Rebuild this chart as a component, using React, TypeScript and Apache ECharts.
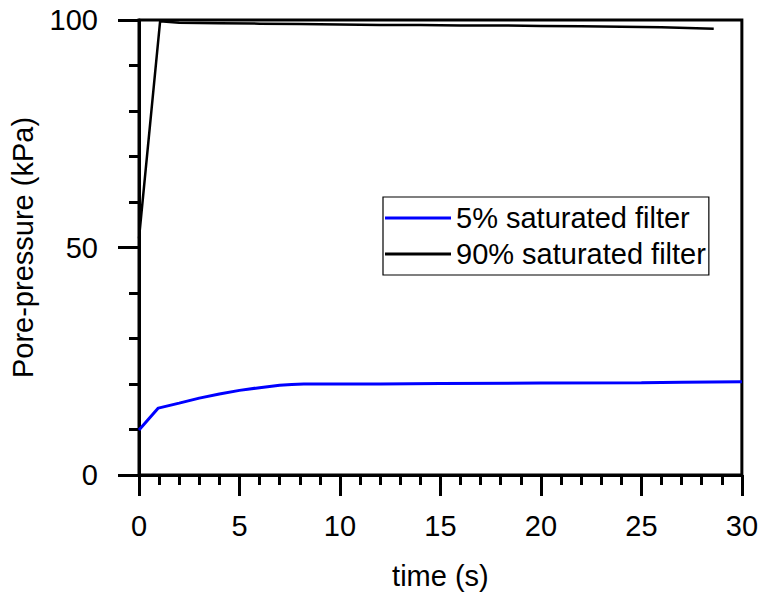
import React, { useEffect, useRef } from "react";
import * as echarts from "echarts";

const seriesNames = ["5% saturated filter", "90% saturated filter"];
const seriesColors = ["#0000ff", "#000000"];

// 5% saturated filter: [time (s), pore-pressure (kPa)]
const lowSatData: [number, number][] = [
  [0, 9.9], [0.96, 14.7], [2, 15.8], [3, 16.9], [4, 17.8], [5, 18.6],
  [6, 19.2], [7, 19.7], [7.6, 19.9], [8.2, 20.0], [10, 20.0], [12, 20.0], [15, 20.1],
  [20, 20.2], [25, 20.3], [27, 20.4], [30, 20.5],
];

// 90% saturated filter
const highSatData: [number, number][] = [
  [0, 52], [1.05, 99.7], [2, 99.4], [4, 99.3], [6, 99.2], [8, 99.1],
  [10, 99.0], [12, 98.9], [14, 98.9], [16, 98.8], [18, 98.8], [20, 98.7],
  [22, 98.6], [24, 98.5], [26, 98.4], [28.6, 98.1],
];

const xTicks = { min: 0, max: 30, interval: 5 };
const yTicks = { min: 0, max: 100, interval: 50 };

const FONT = "Liberation Sans, Arial, sans-serif";

export default function App() {
  const ref = useRef<HTMLDivElement>(null);
  useEffect(() => {
    if (!ref.current) return;
    const chart = echarts.init(ref.current, undefined, { renderer: "svg" });
    const axisCommon = {
      axisLine: { show: true, onZero: false, lineStyle: { color: "#000", width: 3 } },
      axisTick: { show: true, inside: false, length: 21, lineStyle: { color: "#000", width: 3 } },
      minorTick: { show: true, splitNumber: 5, length: 10, lineStyle: { color: "#000", width: 3 } },
      splitLine: { show: false },
      minorSplitLine: { show: false },
    };
    chart.setOption({
      animation: false,
      backgroundColor: "#fff",
      textStyle: { fontFamily: FONT },
      grid: {
        left: 138, right: 19, top: 20, bottom: 124,
        show: true, borderColor: "#000", borderWidth: 3, backgroundColor: "transparent",
      },
      legend: {
        orient: "vertical",
        left: 383,
        top: 197,
        data: seriesNames.map((n) => ({ name: n, icon: "rect" })),
        borderColor: "#000",
        borderWidth: 1.2,
        padding: [5, 3, 5, 2],
        itemGap: 4,
        itemWidth: 66,
        itemHeight: 3,
        textStyle: { fontFamily: FONT, fontSize: 29, color: "#000", lineHeight: 32 },
      },
      xAxis: {
        type: "value",
        ...xTicks,
        ...axisCommon,
        name: "time (s)",
        nameLocation: "middle",
        nameGap: 86,
        nameTextStyle: { fontFamily: FONT, fontSize: 29, color: "#000" },
        axisLabel: { margin: 36, fontFamily: FONT, fontSize: 29, color: "#000" },
      },
      yAxis: {
        type: "value",
        ...yTicks,
        ...axisCommon,
        name: "Pore-pressure (kPa)",
        nameLocation: "middle",
        nameGap: 102,
        nameTextStyle: { fontFamily: FONT, fontSize: 29, color: "#000" },
        axisLabel: { margin: 41, fontFamily: FONT, fontSize: 29, color: "#000" },
      },
      series: [
        {
          name: seriesNames[0],
          type: "line",
          data: lowSatData,
          symbol: "none",
          color: seriesColors[0],
          itemStyle: { color: seriesColors[0] },
          lineStyle: { color: seriesColors[0], width: 3 },
        },
        {
          name: seriesNames[1],
          type: "line",
          data: highSatData,
          symbol: "none",
          color: seriesColors[1],
          itemStyle: { color: seriesColors[1] },
          lineStyle: { color: seriesColors[1], width: 2.5 },
        },
      ],
    });
    return () => chart.dispose();
  }, []);
  return (
    <div
      ref={ref}
      style={{ position: "fixed", left: 0, top: 0, width: 761, height: 599, background: "#fff" }}
    />
  );
}
